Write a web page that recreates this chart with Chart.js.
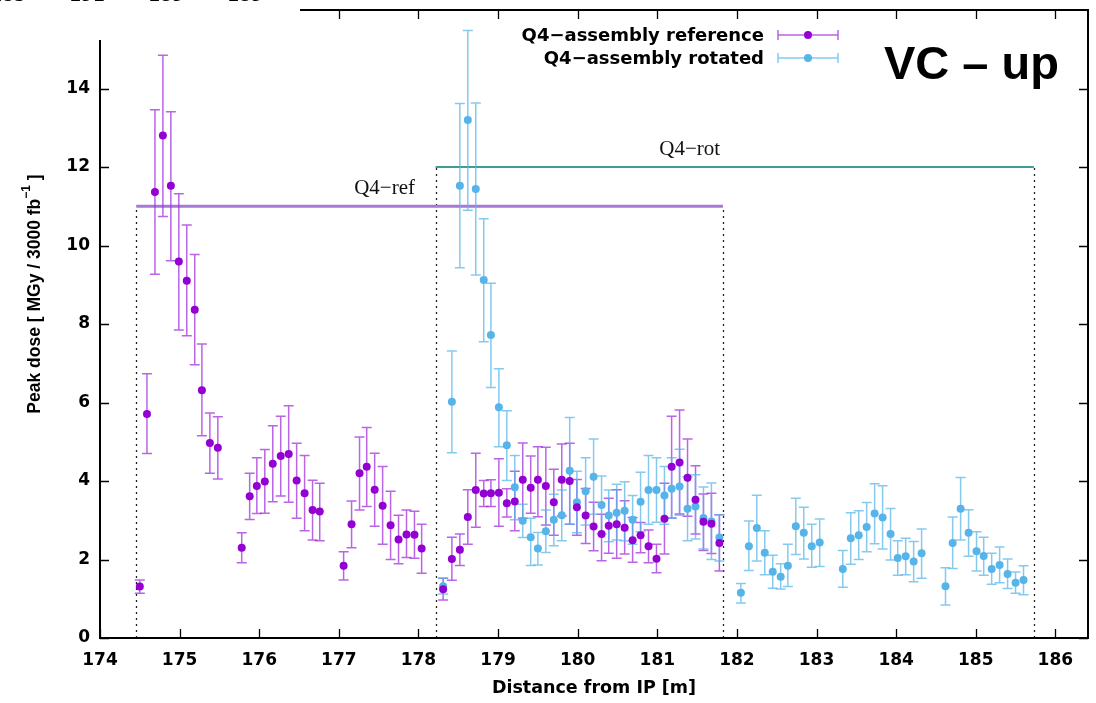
<!DOCTYPE html>
<html>
<head>
<meta charset="utf-8">
<script src="https://cdn.jsdelivr.net/npm/chart.js@4"></script>
<style>
  body { margin: 0; background: #fff; }
  canvas { display: block; }
</style>
</head>
<body>
<canvas id="chart" width="1096" height="703"></canvas>
<script>
// Q4-assembly reference: position [m], peak dose, lower / upper error bound
const refX = [174.50, 174.59, 174.69, 174.79, 174.89, 174.99, 175.09, 175.19, 175.28, 175.38, 175.48,
  175.78, 175.88, 175.97, 176.07, 176.17, 176.27, 176.37, 176.47, 176.57, 176.67, 176.76,
  177.06, 177.16, 177.26, 177.35, 177.45, 177.55, 177.65, 177.75, 177.85, 177.95, 178.04,
  178.31, 178.42, 178.52, 178.62, 178.72, 178.82, 178.91, 179.01, 179.11, 179.21, 179.31, 179.41,
  179.50, 179.60, 179.70, 179.80, 179.90, 179.99, 180.10, 180.20, 180.30, 180.39, 180.49, 180.59,
  180.69, 180.79, 180.89, 180.99, 181.09, 181.18, 181.28, 181.38, 181.48, 181.58, 181.68, 181.78];
const refY = [1.31, 5.71, 11.36, 12.80, 11.52, 9.59, 9.10, 8.36, 6.31, 4.97, 4.85,
  2.30, 3.61, 3.87, 3.99, 4.44, 4.64, 4.69, 4.01, 3.69, 3.26, 3.22,
  1.84, 2.90, 4.20, 4.36, 3.78, 3.37, 2.87, 2.51, 2.64, 2.63, 2.28,
  1.24, 2.01, 2.25, 3.08, 3.77, 3.68, 3.69, 3.70, 3.43, 3.48, 4.03, 3.83,
  4.03, 3.87, 3.46, 4.03, 4.00, 3.33, 3.12, 2.84, 2.65, 2.86, 2.90, 2.81,
  2.49, 2.62, 2.34, 2.02, 3.04, 4.36, 4.47, 4.08, 3.52, 2.96, 2.91, 2.42];
const refLo = [1.14, 4.70, 9.27, 10.74, 9.61, 7.85, 7.70, 6.96, 5.15, 4.20, 4.05,
  1.92, 3.02, 3.17, 3.18, 3.47, 3.62, 3.46, 3.05, 2.73, 2.50, 2.48,
  1.48, 2.30, 3.26, 3.35, 2.85, 2.39, 2.00, 1.89, 2.05, 2.03, 1.65,
  0.97, 1.47, 1.85, 2.39, 2.82, 3.35, 3.35, 2.85, 3.08, 2.73, 3.05, 3.18,
  3.09, 2.88, 2.62, 3.11, 2.90, 2.62, 2.41, 2.22, 1.97, 2.16, 2.03, 2.14,
  1.93, 2.17, 1.92, 1.66, 2.14, 3.06, 3.16, 3.10, 2.65, 2.23, 2.15, 1.71];
const refHi = [1.48, 6.73, 13.46, 14.85, 13.41, 11.32, 10.52, 9.77, 7.49, 5.73, 5.64,
  2.68, 4.20, 4.59, 4.80, 5.41, 5.65, 5.92, 4.96, 4.65, 4.02, 3.94,
  2.20, 3.49, 5.12, 5.36, 4.71, 4.37, 3.74, 3.13, 3.26, 3.23, 2.90,
  1.52, 2.57, 2.65, 3.78, 4.71, 4.01, 4.03, 4.57, 3.80, 4.25, 4.97, 4.64,
  4.87, 4.86, 4.30, 4.94, 4.96, 4.04, 3.81, 3.46, 3.15, 3.56, 3.78, 3.50,
  3.07, 2.94, 2.75, 2.39, 3.94, 5.65, 5.81, 5.07, 4.39, 3.67, 3.69, 3.14];

// Q4-assembly rotated
const rotX = [178.31, 178.42, 178.52, 178.62, 178.72, 178.82, 178.91, 179.01, 179.11, 179.21, 179.31, 179.41,
  179.50, 179.60, 179.70, 179.80, 179.90, 179.99, 180.10, 180.20, 180.30, 180.39, 180.49, 180.59,
  180.69, 180.79, 180.89, 180.99, 181.09, 181.18, 181.28, 181.38, 181.48, 181.58, 181.68, 181.78,
  182.05, 182.15, 182.25, 182.35, 182.45, 182.55, 182.64, 182.74, 182.84, 182.94, 183.04,
  183.33, 183.43, 183.53, 183.63, 183.73, 183.83, 183.93, 184.02, 184.12, 184.22, 184.32,
  184.62, 184.71, 184.81, 184.91, 185.01, 185.10, 185.20, 185.30, 185.40, 185.50, 185.60];
const rotY = [1.32, 6.02, 11.52, 13.20, 11.44, 9.12, 7.72, 5.88, 4.91, 3.84, 2.99, 2.57,
  2.28, 2.72, 3.01, 3.13, 4.26, 3.46, 3.74, 4.11, 3.39, 3.12, 3.19, 3.24,
  3.01, 3.47, 3.77, 3.77, 3.63, 3.80, 3.86, 3.29, 3.35, 3.06, 2.97, 2.56,
  1.15, 2.34, 2.80, 2.17, 1.69, 1.56, 1.84, 2.85, 2.68, 2.34, 2.43,
  1.76, 2.54, 2.62, 2.83, 3.17, 3.07, 2.65, 2.04, 2.08, 1.95, 2.16,
  1.32, 2.42, 3.29, 2.68, 2.21, 2.09, 1.76, 1.86, 1.63, 1.41, 1.48];
const rotLo = [1.12, 4.72, 9.43, 10.90, 9.25, 7.55, 6.38, 4.87, 4.01, 3.01, 2.56, 1.85,
  1.86, 2.18, 2.35, 2.48, 2.90, 2.68, 2.88, 3.15, 2.65, 2.45, 2.50, 2.48,
  2.39, 2.71, 2.90, 2.95, 2.90, 3.05, 3.13, 2.48, 2.52, 2.27, 2.00, 1.96,
  0.89, 1.72, 1.96, 1.61, 1.27, 1.25, 1.31, 2.13, 2.01, 1.80, 1.82,
  1.29, 1.88, 2.00, 2.20, 2.40, 2.27, 1.99, 1.60, 1.61, 1.43, 1.52,
  0.84, 1.77, 2.50, 2.08, 1.71, 1.60, 1.37, 1.41, 1.26, 1.14, 1.10];
const rotHi = [1.52, 7.31, 13.62, 15.48, 13.63, 10.68, 9.04, 6.86, 5.79, 4.65, 3.41, 3.05,
  2.69, 3.26, 3.66, 3.77, 5.62, 4.25, 4.59, 5.07, 4.13, 3.77, 3.92, 3.98,
  3.63, 4.22, 4.65, 4.59, 4.37, 4.59, 4.81, 4.11, 4.16, 3.85, 3.95, 3.14,
  1.39, 2.98, 3.64, 2.73, 2.11, 1.89, 2.39, 3.56, 3.33, 2.90, 3.03,
  2.23, 3.19, 3.24, 3.45, 3.93, 3.88, 3.30, 2.48, 2.54, 2.46, 2.78,
  1.79, 3.08, 4.09, 3.27, 2.71, 2.57, 2.16, 2.32, 2.01, 1.68, 1.84];

// magnet extents and their labels
const regionNames = ["Q4\u2212ref", "Q4\u2212rot"];
const regionStart = [174.455, 178.215];
const regionEnd = [181.825, 185.73];
const regionLevel = [11, 12];

const xTicks = [174, 175, 176, 177, 178, 179, 180, 181, 182, 183, 184, 185, 186];
const yTicks = [0, 2, 4, 6, 8, 10, 12, 14];
const seriesNames = ["Q4\u2212assembly reference", "Q4\u2212assembly rotated"];
// cut-off labels of the figure above
const strayLabels = ["185", "191", "189", "189"];

const PURPLE = "#9400d3";
const PURPLE_BAR = "rgba(160, 40, 220, 0.72)";
const BLUE = "#56b4e9";
const BLUE_BAR = "rgba(86, 180, 233, 0.72)";
const REGION_COLORS = ["#a47ad6", "#3f9c98"];
const TICK_FONT = "bold 17px 'DejaVu Sans'";

function toPoints(xs, ys) {
  return xs.map((x, i) => ({ x: x, y: ys[i] }));
}

const errorBars = [
  { lo: refLo, hi: refHi, color: PURPLE_BAR },
  { lo: rotLo, hi: rotHi, color: BLUE_BAR }
];

const overlay = {
  id: "overlay",
  beforeDatasetsDraw(chart) {
    const ctx = chart.ctx;
    const xs = chart.scales.x, ys = chart.scales.y;
    ctx.save();

    // dotted extents
    ctx.strokeStyle = "#222";
    ctx.lineWidth = 1.3;
    ctx.setLineDash([2, 4]);
    regionStart.forEach((s, i) => {
      const top = ys.getPixelForValue(regionLevel[i]);
      [s, regionEnd[i]].forEach(v => {
        const px = Math.round(xs.getPixelForValue(v)) + 0.5;
        ctx.beginPath();
        ctx.moveTo(px, ys.getPixelForValue(0));
        ctx.lineTo(px, top);
        ctx.stroke();
      });
    });
    ctx.setLineDash([]);

    // horizontal bars + labels
    regionStart.forEach((s, i) => {
      const py = ys.getPixelForValue(regionLevel[i]);
      const x0 = xs.getPixelForValue(s), x1 = xs.getPixelForValue(regionEnd[i]);
      ctx.strokeStyle = REGION_COLORS[i];
      ctx.lineWidth = i === 0 ? 3 : 2;
      ctx.beginPath();
      ctx.moveTo(x0, py);
      ctx.lineTo(x1, py);
      ctx.stroke();
      ctx.fillStyle = "#111";
      ctx.font = "21px 'Liberation Serif'";
      ctx.textAlign = "center";
      ctx.textBaseline = "alphabetic";
      ctx.fillText(regionNames[i], (x0 + x1) / 2 - 45, py - 12);
    });

    // error bars
    ctx.lineWidth = 1.5;
    errorBars.forEach((eb, d) => {
      const meta = chart.getDatasetMeta(d);
      ctx.strokeStyle = eb.color;
      meta.data.forEach((pt, i) => {
        const px = pt.x;
        const yl = ys.getPixelForValue(eb.lo[i]);
        const yh = ys.getPixelForValue(eb.hi[i]);
        ctx.beginPath();
        ctx.moveTo(px, yl); ctx.lineTo(px, yh);
        ctx.moveTo(px - 5, yl); ctx.lineTo(px + 5, yl);
        ctx.moveTo(px - 5, yh); ctx.lineTo(px + 5, yh);
        ctx.stroke();
      });
    });
    ctx.restore();
  },
  afterDraw(chart) {
    const ctx = chart.ctx;
    const a = chart.chartArea;
    const xs = chart.scales.x, ys = chart.scales.y;
    ctx.save();

    // frame
    ctx.strokeStyle = "#000";
    ctx.lineWidth = 2;
    ctx.strokeRect(a.left, a.top, a.right - a.left, a.bottom - a.top);

    // inward ticks on all four sides
    ctx.lineWidth = 1.3;
    ctx.beginPath();
    xTicks.forEach(v => {
      const px = Math.round(xs.getPixelForValue(v)) + 0.5;
      ctx.moveTo(px, a.bottom); ctx.lineTo(px, a.bottom - 9);
      ctx.moveTo(px, a.top); ctx.lineTo(px, a.top + 9);
    });
    yTicks.forEach(v => {
      const py = Math.round(ys.getPixelForValue(v)) + 0.5;
      ctx.moveTo(a.left, py); ctx.lineTo(a.left + 9, py);
      ctx.moveTo(a.right, py); ctx.lineTo(a.right - 9, py);
    });
    ctx.stroke();

    // the reference is cropped from a page: white patch top left
    ctx.fillStyle = "#fff";
    ctx.fillRect(0, 0, 300, 40);
    ctx.fillStyle = "#000";
    ctx.font = TICK_FONT;
    ctx.textAlign = "center";
    ctx.textBaseline = "alphabetic";
    strayLabels.forEach((t, i) => ctx.fillText(t, 8 + i * 79, 0.5));

    // legend
    ctx.font = "bold 18px 'DejaVu Sans'";
    ctx.textAlign = "right";
    ctx.textBaseline = "middle";
    const legend = [[PURPLE, PURPLE_BAR, 35], [BLUE, BLUE_BAR, 58]];
    legend.forEach(([c, bc, y], i) => {
      ctx.fillStyle = "#000";
      ctx.fillText(seriesNames[i], 764, y + 1);
      ctx.strokeStyle = bc;
      ctx.lineWidth = 1.5;
      ctx.beginPath();
      ctx.moveTo(778, y); ctx.lineTo(838, y);
      ctx.moveTo(778, y - 5); ctx.lineTo(778, y + 5);
      ctx.moveTo(838, y - 5); ctx.lineTo(838, y + 5);
      ctx.stroke();
      ctx.fillStyle = c;
      ctx.beginPath();
      ctx.arc(808, y, 4, 0, Math.PI * 2);
      ctx.fill();
    });

    // panel title
    ctx.fillStyle = "#000";
    ctx.font = "bold 47px 'Liberation Sans'";
    ctx.textAlign = "left";
    ctx.textBaseline = "alphabetic";
    ctx.fillText("VC \u2013 up", 884, 79);

    // y axis title with superscript
    ctx.translate(35, 294);
    ctx.rotate(-Math.PI / 2);
    const main = "Peak dose [ MGy / 3000 fb", sup = "\u22121", tail = " ]";
    const fMain = "bold 17.5px 'Liberation Sans'", fSup = "bold 12px 'Liberation Sans'";
    ctx.font = fMain;
    const w1 = ctx.measureText(main).width, w3 = ctx.measureText(tail).width;
    ctx.font = fSup;
    const w2 = ctx.measureText(sup).width;
    let x = -(w1 + w2 + w3) / 2;
    ctx.textAlign = "left";
    ctx.textBaseline = "middle";
    ctx.font = fMain;
    ctx.fillText(main, x, 0);
    x += w1;
    ctx.font = fSup;
    ctx.fillText(sup, x, -8);
    x += w2;
    ctx.font = fMain;
    ctx.fillText(tail, x, 0);
    ctx.restore();
  }
};

new Chart(document.getElementById("chart").getContext("2d"), {
  type: "scatter",
  data: {
    datasets: [
      {
        label: seriesNames[0],
        data: toPoints(refX, refY),
        backgroundColor: PURPLE,
        borderWidth: 0,
        pointRadius: 4
      },
      {
        label: seriesNames[1],
        data: toPoints(rotX, rotY),
        backgroundColor: BLUE,
        borderWidth: 0,
        pointRadius: 4
      }
    ]
  },
  options: {
    responsive: false,
    animation: false,
    devicePixelRatio: 1,
    layout: { padding: { top: 10, right: 8, left: 0, bottom: 0 } },
    scales: {
      x: {
        type: "linear",
        min: 174,
        max: 186.41,
        afterBuildTicks: s => { s.ticks = xTicks.map(v => ({ value: v })); },
        afterFit: s => { s.height = 65; s.paddingLeft = 0; s.paddingRight = 0; },
        grid: { display: false, drawTicks: false },
        border: { display: false },
        ticks: { color: "#000", font: { family: "DejaVu Sans", size: 17, weight: "bold" }, padding: 12, maxRotation: 0 },
        title: {
          display: true,
          text: "Distance from IP [m]",
          color: "#000",
          font: { family: "DejaVu Sans", size: 17.5, weight: "bold" },
          padding: { top: 0, bottom: 4 }
        }
      },
      y: {
        type: "linear",
        min: 0,
        max: 16,
        afterBuildTicks: s => { s.ticks = yTicks.map(v => ({ value: v })); },
        afterFit: s => { s.width = 100; s.paddingTop = 0; s.paddingBottom = 0; },
        grid: { display: false, drawTicks: false },
        border: { display: false },
        ticks: { color: "#000", font: { family: "DejaVu Sans", size: 17, weight: "bold" }, padding: 10 }
      }
    },
    plugins: {
      legend: { display: false },
      tooltip: { enabled: false }
    }
  },
  plugins: [overlay]
});
</script>
</body>
</html>
